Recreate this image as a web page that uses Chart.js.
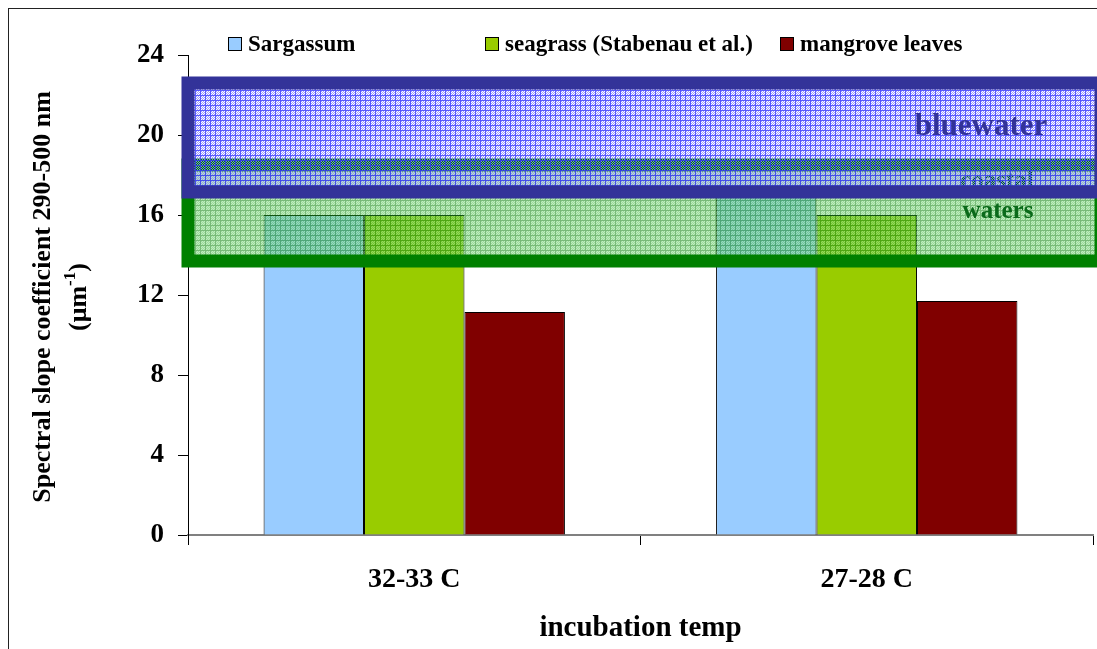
<!DOCTYPE html>
<html>
<head>
<meta charset="utf-8">
<script src="https://cdn.jsdelivr.net/npm/chart.js@4.4.1/dist/chart.umd.min.js"></script>
<style>
  html, body { margin: 0; padding: 0; background: #fff; }
  #wrap { width: 1097px; height: 649px; position: relative; }
</style>
</head>
<body>
<div id="wrap"><canvas id="c" width="1097" height="649"></canvas></div>
<script>
// ---- data ----
const categories = ['32-33 C', '27-28 C'];
const seriesNames = ['Sargassum', 'seagrass (Stabenau et al.)', 'mangrove leaves'];
const sargassum = [16.0, 17.2];
const seagrass = [16.0, 16.0];
const mangrove = [11.15, 11.7];
const yTicks = [0, 4, 8, 12, 16, 20, 24];
const bluewaterRange = [17.15, 22.6];
const coastalRange = [13.7, 18.5];
const yTitleLine1 = 'Spectral slope coefficient 290-500 nm';
const xTitle = 'incubation temp';

const FONT = '"Liberation Serif", "Times New Roman", serif';

function makePattern(lineRGB, fillRGB, gapRGB, period) {
  const c = document.createElement('canvas');
  c.width = period; c.height = period;
  const g = c.getContext('2d');
  const img = g.createImageData(period, period);
  for (let yy = 0; yy < period; yy++) {
    for (let xx = 0; xx < period; xx++) {
      const i = (yy * period + xx) * 4;
      let col = null;
      if (xx === 0 || yy === 0) col = lineRGB;
      else if ((xx + yy) % 2 === 0) col = fillRGB;
      else col = gapRGB;
      if (col) { img.data[i] = col[0]; img.data[i+1] = col[1]; img.data[i+2] = col[2]; img.data[i+3] = 255; }
      else { img.data[i+3] = 0; }
    }
  }
  g.putImageData(img, 0, 0);
  return c;
}

const bluePatCanvas = makePattern([60, 60, 255], [140, 140, 255], null, 5);
const greenPatCanvas = makePattern([30, 140, 30], [90, 195, 90], [150, 225, 150], 5);

function drawBox(ctx, x0, y0, x1, y1, pattern, alpha, stroke, lw) {
  ctx.save();
  ctx.globalAlpha = alpha;
  ctx.fillStyle = pattern;
  ctx.fillRect(x0, y0, x1 - x0, y1 - y0);
  ctx.restore();
  ctx.save();
  ctx.strokeStyle = stroke;
  ctx.lineWidth = lw;
  ctx.strokeRect(x0, y0, x1 - x0, y1 - y0);
  ctx.restore();
}

const overlayPlugin = {
  id: 'overlay',
  afterDatasetsDraw(chart) {
    const { ctx, chartArea, scales } = chart;
    const y = scales.y;
    const left = chartArea.left;
    const right = chartArea.right + 8;
    const bluePat = ctx.createPattern(bluePatCanvas, 'repeat');
    const greenPat = ctx.createPattern(greenPatCanvas, 'repeat');

    // coastal waters box
    drawBox(ctx, left, y.getPixelForValue(coastalRange[1]), right, y.getPixelForValue(coastalRange[0]),
      greenPat, 0.6, '#008000', 13);
    ctx.save();
    ctx.fillStyle = '#0a6a1a';
    ctx.font = 'bold 25px ' + FONT;
    ctx.textAlign = 'center';
    ctx.textBaseline = 'alphabetic';
    ctx.fillText('coastal', 997, 188);
    ctx.fillText('waters', 998, 218);
    ctx.restore();

    // bluewater box
    drawBox(ctx, left, y.getPixelForValue(bluewaterRange[1]), right, y.getPixelForValue(bluewaterRange[0]),
      bluePat, 0.85, '#333399', 13);
    ctx.save();
    ctx.fillStyle = '#333399';
    ctx.font = 'bold 31px ' + FONT;
    ctx.textAlign = 'center';
    ctx.textBaseline = 'alphabetic';
    ctx.fillText('bluewater', 981, 135);
    ctx.restore();
  },
  afterDraw(chart) {
    const { ctx } = chart;
    // outer frame
    ctx.save();
    ctx.strokeStyle = '#222';
    ctx.lineWidth = 1;
    ctx.strokeRect(8.5, 8.5, 1200, 800);
    ctx.restore();

    // legend
    const legendX = [228, 485, 780];
    ctx.save();
    ctx.font = 'bold 23px ' + FONT;
    ctx.textBaseline = 'alphabetic';
    ctx.textAlign = 'left';
    chart.data.datasets.forEach((ds, i) => {
      const bx = legendX[i];
      ctx.fillStyle = ds.backgroundColor;
      ctx.fillRect(bx + 0.5, 37.5, 13, 13);
      ctx.strokeStyle = '#000';
      ctx.lineWidth = 1;
      ctx.strokeRect(bx + 0.5, 37.5, 13, 13);
      ctx.fillStyle = '#000';
      ctx.fillText(ds.label, bx + 20, 51);
    });
    ctx.restore();

    // y-axis title (two lines, with superscript)
    ctx.save();
    ctx.fillStyle = '#000';
    ctx.textBaseline = 'alphabetic';
    ctx.translate(50, 297);
    ctx.rotate(-Math.PI / 2);
    ctx.font = 'bold 26px ' + FONT;
    ctx.textAlign = 'center';
    ctx.fillText(yTitleLine1, 0, 0);
    ctx.restore();

    ctx.save();
    ctx.fillStyle = '#000';
    ctx.textBaseline = 'alphabetic';
    ctx.translate(86, 297);
    ctx.rotate(-Math.PI / 2);
    const big = 'bold 26px ' + FONT, small = 'bold 17px ' + FONT;
    ctx.font = big; const w1 = ctx.measureText('(\u03bcm').width; const w3 = ctx.measureText(')').width;
    ctx.font = small; const w2 = ctx.measureText('-1').width;
    let sx = -(w1 + w2 + w3) / 2;
    ctx.textAlign = 'left';
    ctx.font = big; ctx.fillText('(\u03bcm', sx, 0); sx += w1;
    ctx.font = small; ctx.fillText('-1', sx, -11); sx += w2;
    ctx.font = big; ctx.fillText(')', sx, 0);
    ctx.restore();
  }
};

new Chart(document.getElementById('c'), {
  type: 'bar',
  data: {
    labels: categories,
    datasets: [
      { label: seriesNames[0], data: sargassum, backgroundColor: '#99ccff', borderColor: '#000', borderWidth: 1 },
      { label: seriesNames[1], data: seagrass, backgroundColor: '#99cc00', borderColor: '#000', borderWidth: 1 },
      { label: seriesNames[2], data: mangrove, backgroundColor: '#800000', borderColor: '#000', borderWidth: 1 }
    ]
  },
  options: {
    responsive: false,
    devicePixelRatio: 1,
    animation: false,
    layout: { padding: { top: 55, left: 0, right: 4, bottom: 0 } },
    plugins: { legend: { display: false }, tooltip: { enabled: false } },
    datasets: { bar: { categoryPercentage: 0.666, barPercentage: 1.0 } },
    scales: {
      x: {
        afterFit(s) { s.height = 114; },
        grid: { offset: true, drawOnChartArea: false, tickLength: 10, color: '#000' },
        border: { color: '#808080', width: 2 },
        ticks: { color: '#000', font: { family: FONT, size: 28, weight: 'bold' }, padding: 18 },
        title: { display: true, text: xTitle, color: '#000', font: { family: FONT, size: 29, weight: 'bold' }, padding: { top: 0, bottom: 3 } }
      },
      y: {
        min: 0, max: 24,
        afterFit(s) { s.width = 188; },
        afterBuildTicks(s) { s.ticks = yTicks.map(v => ({ value: v })); },
        grid: { drawOnChartArea: false, tickLength: 10, color: '#000' },
        border: { color: '#000', width: 1 },
        ticks: { color: '#000', font: { family: FONT, size: 27, weight: 'bold' }, padding: 14 }
      }
    }
  },
  plugins: [overlayPlugin]
});
</script>
</body>
</html>
